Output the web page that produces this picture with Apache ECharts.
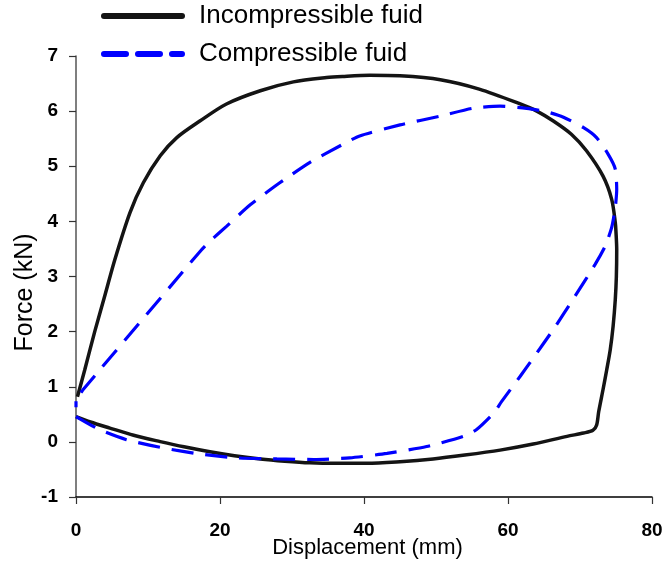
<!DOCTYPE html>
<html>
<head>
<meta charset="utf-8">
<script src="https://cdn.jsdelivr.net/npm/echarts@6/dist/echarts.min.js"></script>
<style>
html,body{margin:0;padding:0;background:#fff;}
#chart{width:664px;height:566px;}
</style>
</head>
<body>
<div id="chart"></div>
<script>
// Series names
var seriesNames = ['Incompressible fuid', 'Compressible fuid'];

// Incompressible fluid loop (displacement mm, force kN)
var incompX = [0, 2, 4.7, 8, 11.7, 15, 18.6, 22, 25.6, 29, 32.5, 36, 40.4, 45, 49.6, 54, 58.9, 63.5, 68.2, 70.5, 71.8, 72.3, 72.6, 73.2, 73.7, 74.2, 74.6, 74.9, 75.05, 75.1, 75.0, 74.9, 74.4, 73.2, 70.9, 68.8, 66.3, 64, 61.7, 56, 50.6, 45, 40.8, 37, 34.8, 30.2, 25.6, 20.9, 17.2, 14.0, 11.7, 9.35, 7.5, 5.4, 4.0, 2.6, 1.2, 0.2];
var incompY = [0.46, 0.36, 0.25, 0.12, 0.005, -0.09, -0.18, -0.25, -0.31, -0.35, -0.38, -0.39, -0.39, -0.36, -0.31, -0.24, -0.15, -0.04, 0.10, 0.16, 0.21, 0.30, 0.55, 0.95, 1.30, 1.67, 2.10, 2.58, 3.00, 3.49, 3.80, 3.98, 4.40, 4.82, 5.28, 5.58, 5.82, 6.00, 6.13, 6.40, 6.57, 6.64, 6.65, 6.63, 6.61, 6.53, 6.37, 6.13, 5.82, 5.52, 5.19, 4.70, 4.16, 3.31, 2.65, 2.00, 1.30, 0.82];

// Compressible fluid loop (displacement mm, force kN)
var compX = [0, 3.3, 7.0, 12.1, 17.2, 22.3, 27.9, 33, 38, 43.2, 48.7, 53.8, 55.6, 58, 59.1, 61.7, 63.5, 66.3, 69.3, 72.1, 73.5, 74.4, 74.9, 75.1, 74.9, 73.9, 72.3, 70.5, 67.7, 65.6, 62.6, 58.9, 55, 50.6, 45, 39.4, 37.1, 32.5, 28.3, 24.2, 20.9, 18.6, 17.2, 1.0, 0.3, 0, 0];
var compY = [0.46, 0.22, 0.04, -0.11, -0.22, -0.29, -0.31, -0.32, -0.29, -0.21, -0.085, 0.10, 0.22, 0.52, 0.73, 1.19, 1.52, 2.04, 2.64, 3.22, 3.55, 3.89, 4.25, 4.58, 4.95, 5.22, 5.52, 5.70, 5.89, 5.98, 6.05, 6.09, 6.05, 5.91, 5.75, 5.55, 5.40, 5.07, 4.70, 4.30, 3.91, 3.64, 3.45, 0.95, 0.84, 0.84, 0.63];

// Axis ticks
var xTicks = [0, 20, 40, 60, 80];
var yTicks = [-1, 0, 1, 2, 3, 4, 5, 6, 7];

function pairs(xs, ys) {
  var out = [];
  for (var i = 0; i < xs.length; i++) out.push([xs[i], ys[i]]);
  return out;
}

var chart = echarts.init(document.getElementById('chart'), null, {renderer: 'canvas'});
var font = 'Arial, "Liberation Sans", Helvetica, sans-serif';

chart.setOption({
  animation: false,
  backgroundColor: '#ffffff',
  legend: {
    orient: 'vertical',
    left: 96,
    top: -4,
    itemWidth: 78,
    itemHeight: 20,
    itemGap: 8,
    data: seriesNames,
    itemStyle: {opacity: 0},
    lineStyle: {width: 6, cap: 'round'},
    textStyle: {fontFamily: font, fontSize: 26, color: '#000', lineHeight: 30, padding: [0, 0, 0, 12]}
  },
  grid: {left: 76, right: 12, top: 56, bottom: 69, containLabel: false, outerBoundsMode: 'none'},
  xAxis: {
    type: 'value',
    min: xTicks[0],
    max: xTicks[xTicks.length - 1],
    interval: 20,
    name: 'Displacement (mm)',
    nameLocation: 'middle',
    nameGap: 40,
    nameMoveOverlap: false,
    nameTextStyle: {fontFamily: font, fontSize: 22, color: '#000', padding: [0, 0, 0, 7]},
    axisLine: {onZero: false, lineStyle: {color: '#000', width: 1.5}},
    axisTick: {show: true, length: 7, lineStyle: {color: '#333', width: 1.2}},
    axisLabel: {fontFamily: font, fontSize: 19, fontWeight: 'bold', color: '#000', margin: 24},
    splitLine: {show: false}
  },
  yAxis: {
    type: 'value',
    min: yTicks[0],
    max: yTicks[yTicks.length - 1],
    interval: 1,
    name: 'Force (kN)',
    nameLocation: 'middle',
    nameGap: 38,
    nameMoveOverlap: false,
    nameTextStyle: {fontFamily: font, fontSize: 25, color: '#000', padding: [0, 32, 0, 0]},
    axisLine: {onZero: false, lineStyle: {color: '#555', width: 1.5}},
    axisTick: {show: true, length: 7, lineStyle: {color: '#333', width: 1.2}},
    axisLabel: {fontFamily: font, fontSize: 19, fontWeight: 'bold', color: '#000', margin: 18},
    splitLine: {show: false}
  },
  series: [
    {
      name: seriesNames[0],
      type: 'line',
      data: pairs(incompX, incompY),
      showSymbol: false,
      symbol: 'none',
      smooth: 0.3,
      lineStyle: {color: '#141414', width: 3.5},
      itemStyle: {color: '#141414'},
      z: 2
    },
    {
      name: seriesNames[1],
      type: 'line',
      data: pairs(compX, compY),
      showSymbol: false,
      symbol: 'none',
      smooth: 0.2,
      lineStyle: {color: '#0000ff', width: 3.2, type: [22, 12]},
      itemStyle: {color: '#0000ff'},
      z: 3
    }
  ]
});
</script>
</body>
</html>
